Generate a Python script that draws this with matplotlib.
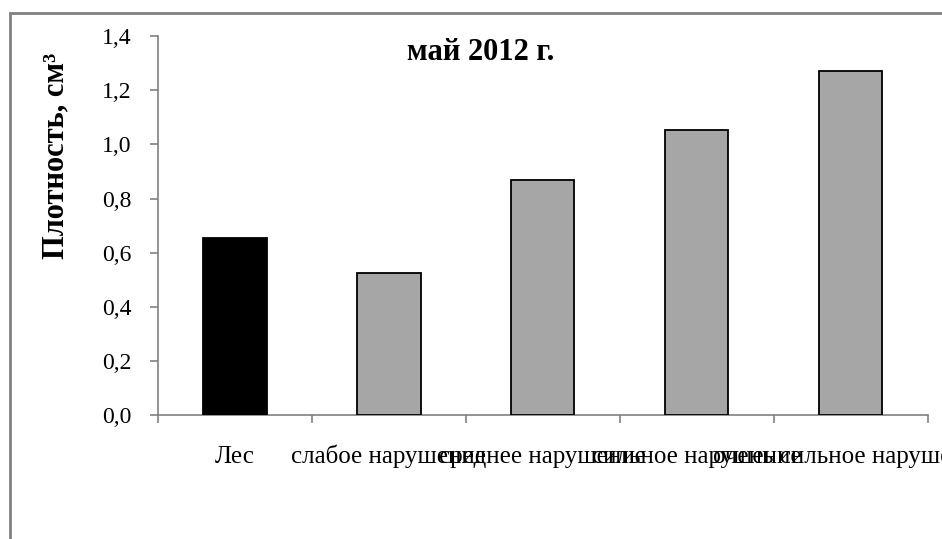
import numpy as np
import matplotlib.pyplot as plt
from matplotlib.patches import Rectangle
from matplotlib.ticker import FuncFormatter

# категории и значения плотности
categories = ["Лес", "слабое нарушение", "среднее нарушение",
              "сильное нарушение", "очень сильное нарушение"]
density = [0.655, 0.525, 0.868, 1.052, 1.272]
bar_colors = ["#000000", "#A6A6A6", "#A6A6A6", "#A6A6A6", "#A6A6A6"]

plt.rcParams['font.family'] = ['Liberation Serif', 'DejaVu Serif']

fig = plt.figure(figsize=(9.42, 5.39), dpi=100)
ax = fig.add_axes([0.1677, 0.230, 0.8173, 0.703])

x = np.arange(len(categories))
ax.bar(x, density, width=0.41, color=bar_colors, edgecolor="black", linewidth=1.3, zorder=3)

ax.set_xlim(-0.5, len(categories) - 0.5)
ax.set_ylim(0, 1.4)
ax.set_yticks(np.arange(0, 1.41, 0.2))
ax.yaxis.set_major_formatter(FuncFormatter(lambda v, p: f"{v:.1f}".replace(".", ",")))

# деления на границах категорий, подписи по центру
ax.set_xticks(np.arange(-0.5, len(categories), 1.0))
ax.set_xticklabels([])
ax.set_xticks(x, minor=True)
ax.set_xticklabels(categories, minor=True, fontsize=18, va="baseline")
ax.tick_params(axis='x', which='major', length=6, color="#808080", width=1.2)
ax.tick_params(axis='x', which='minor', length=0, pad=34.5)
ax.tick_params(axis='y', length=6, color="#808080", width=1.2, labelsize=17, pad=13)

for s in ["top", "right"]:
    ax.spines[s].set_visible(False)
for s in ["left", "bottom"]:
    ax.spines[s].set_color("#808080")
    ax.spines[s].set_linewidth(1.2)

ax.set_ylabel("Плотность, см³", fontsize=22, fontweight="bold")
ax.yaxis.set_label_coords((70 - 158) / 770, (415 - 156) / 379)
fig.text(481 / 942, 1 - 53 / 539, "май 2012 г.", fontsize=22, fontweight="bold",
         ha="center", va="center")

# рамка вокруг области диаграммы
fig.patches.append(Rectangle((10 / 942, -0.1), 1.2, 0.1 + 1 - 13 / 539,
                             transform=fig.transFigure, fill=False,
                             edgecolor="#808080", linewidth=2))

fig.savefig("out.png", dpi=100)
